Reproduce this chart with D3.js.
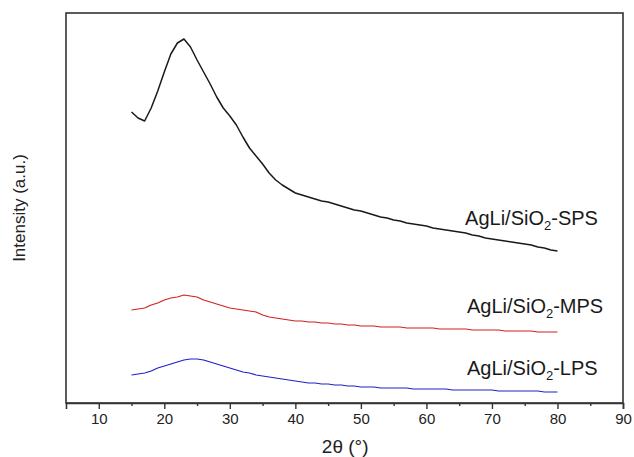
<!DOCTYPE html>
<html>
<head>
<meta charset="utf-8">
<script src="https://cdn.jsdelivr.net/npm/d3@7"></script>
<style>
  body { margin: 0; background: #fff; }
  svg { font-family: "Liberation Sans", Arial, sans-serif; }
</style>
</head>
<body>
<svg width="634" height="457"></svg>
<script>
// 2theta positions (deg), one per reading
const twoTheta = d3.range(15, 81);

// intensities (a.u.) at each degree
const spsValues = [
  292, 286, 283, 296, 313, 332, 350, 361, 365, 357,
  344, 332, 320, 307, 296, 288, 279, 267, 256, 248,
  240, 231, 224, 219, 215, 211, 209, 207, 205, 203,
  202, 200, 198, 196, 194, 193, 191, 189, 187, 186,
  184, 183, 181, 180, 179, 178, 176, 175, 174, 173,
  172, 171, 169, 168, 166, 165, 164, 163, 162, 161,
  160, 159, 157, 156, 154, 153,
];
const mpsValues = [
  94, 95, 96, 99, 101, 104, 106, 107, 109, 108,
  107, 104, 102, 100, 98, 96, 95, 94, 93, 92,
  89, 87, 86, 85, 84, 83, 83, 82, 82, 81,
  81, 80, 80, 79, 79, 78, 78, 78, 77, 77,
  77, 77, 76, 76, 76, 76, 76, 75, 75, 75,
  75, 75, 74, 74, 74, 74, 74, 73, 73, 73,
  73, 73, 72, 72, 72, 72,
];
const lpsValues = [
  29, 30, 31, 33, 36, 38, 40, 42, 44, 45,
  45, 44, 42, 40, 38, 36, 34, 32, 31, 29,
  28, 27, 26, 25, 24, 23, 22, 21, 21, 20,
  20, 19, 19, 18, 18, 17, 17, 17, 16, 16,
  16, 16, 16, 15, 15, 15, 15, 15, 15, 14,
  14, 14, 14, 14, 14, 14, 13, 13, 13, 13,
  13, 13, 13, 12, 12, 12,
];

const seriesNames = ["SPS", "MPS", "LPS"];
const seriesColors = ["#1a1a1a", "#d02020", "#2020c8"];
// label anchor (2theta, intensity) for each series text
const labelX = [65.9, 66.2, 66.2];
const labelY = [179, 91, 29];
const xTicks = [10, 20, 30, 40, 50, 60, 70, 80, 90];

const svg = d3.select("svg");
const margin = { top: 13, right: 11, bottom: 54, left: 66 };
const width = 634 - margin.left - margin.right;
const height = 457 - margin.top - margin.bottom;

const x = d3.scaleLinear().domain([5, 90]).range([margin.left, margin.left + width]);
const y = d3.scaleLinear().domain([1, 391]).range([margin.top + height, margin.top]);

const series = [spsValues, mpsValues, lpsValues].map((vals, i) => ({
  name: seriesNames[i],
  color: seriesColors[i],
  points: vals.map((v, j) => ({ t: twoTheta[j], v: v })),
}));

const line = d3
  .line()
  .x((d) => x(d.t))
  .y((d) => y(d.v));

svg
  .selectAll("path.trace")
  .data(series)
  .enter()
  .append("path")
  .attr("class", "trace")
  .attr("fill", "none")
  .attr("stroke", (d) => d.color)
  .attr("stroke-width", (d, i) => (i === 0 ? 1.5 : 1.2))
  .attr("stroke-linejoin", "round")
  .attr("d", (d) => line(d.points));

// frame
svg
  .append("rect")
  .attr("x", margin.left)
  .attr("y", margin.top)
  .attr("width", width)
  .attr("height", height)
  .attr("fill", "none")
  .attr("stroke", "#333")
  .attr("stroke-width", 1.6);

// x axis, major ticks with labels
const xAxis = svg
  .append("g")
  .attr("transform", `translate(0, ${margin.top + height})`)
  .call(d3.axisBottom(x).tickValues(xTicks).tickSize(6).tickPadding(4).tickFormat(d3.format("d")));
xAxis.select(".domain").attr("stroke", "#333").attr("stroke-width", 1.6);
xAxis.selectAll(".tick line").attr("stroke", "#333").attr("stroke-width", 1.4);
xAxis.selectAll(".tick text").attr("font-size", 15).attr("fill", "#222").attr("font-family", "Liberation Sans, Arial, sans-serif");

// minor ticks
const minor = svg
  .append("g")
  .attr("transform", `translate(0, ${margin.top + height})`)
  .call(d3.axisBottom(x).tickValues(d3.range(15, 90, 10)).tickSize(3).tickFormat(""));
minor.select(".domain").remove();
minor.selectAll(".tick line").attr("stroke", "#333").attr("stroke-width", 1.4);

// axis titles
svg
  .append("text")
  .attr("x", x(47.6))
  .attr("y", 453)
  .attr("text-anchor", "middle")
  .attr("font-size", 19)
  .attr("fill", "#222")
  .text("2θ (°)");

svg
  .append("text")
  .attr("transform", "translate(25, 208) rotate(-90)")
  .attr("text-anchor", "middle")
  .attr("font-size", 17)
  .attr("fill", "#222")
  .text("Intensity (a.u.)");

// series labels
const labels = svg
  .selectAll("text.series")
  .data(series)
  .enter()
  .append("text")
  .attr("class", "series")
  .attr("x", (d, i) => x(labelX[i]))
  .attr("y", (d, i) => y(labelY[i]))
  .attr("font-size", 20)
  .attr("fill", "#1a1a1a");
labels.append("tspan").text("AgLi/SiO");
labels.append("tspan").attr("font-size", 13).attr("dy", 5).text("2");
labels.append("tspan").attr("dy", -5).text((d) => "-" + d.name);
</script>
</body>
</html>
